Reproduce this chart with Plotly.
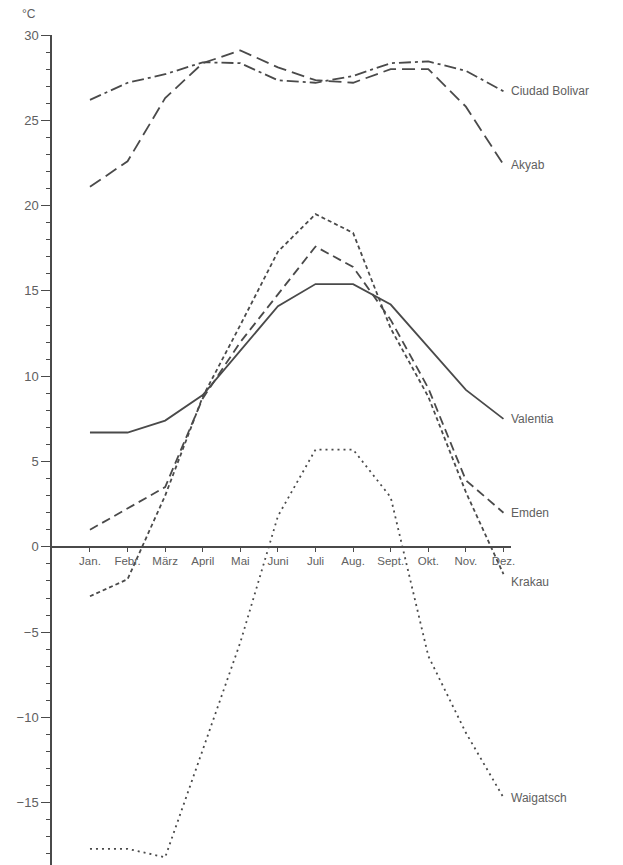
import plotly.graph_objects as go

months = ["Jan.", "Febr.", "März", "April", "Mai", "Juni", "Juli", "Aug.", "Sept.", "Okt.", "Nov.", "Dez."]

ciudad_bolivar = [26.2, 27.2, 27.7, 28.4, 28.35, 27.35, 27.2, 27.6, 28.35, 28.45, 27.9, 26.7]
akyab = [21.1, 22.6, 26.3, 28.35, 29.1, 28.1, 27.35, 27.2, 28.0, 28.0, 25.8, 22.4]
valentia = [6.7, 6.7, 7.4, 8.9, 11.5, 14.1, 15.4, 15.4, 14.2, 11.7, 9.2, 7.5]
emden = [1.0, 2.25, 3.5, 8.7, 12.0, 14.8, 17.6, 16.4, 13.3, 9.3, 3.9, 2.0]
krakau = [-2.9, -1.9, 3.0, 8.8, 13.0, 17.3, 19.5, 18.4, 12.8, 8.8, 3.2, -1.6]
waigatsch = [-17.7, -17.7, -18.2, -11.9, -5.6, 1.8, 5.7, 5.7, 2.9, -6.4, -10.9, -14.7]

series = [
    ("Ciudad Bolivar", ciudad_bolivar, "12px,4px,3px,4px", 0),
    ("Akyab", akyab, "13px,6px", 0),
    ("Valentia", valentia, "solid", 0),
    ("Emden", emden, "9px,5px", 0),
    ("Krakau", krakau, "4px,3px", -8),
    ("Waigatsch", waigatsch, "2px,4px", 0),
]

x = list(range(len(months)))
LINE = "#4a4a4a"
TXT = "#606060"
FONT = "Liberation Sans, Arial, sans-serif"

fig = go.Figure()
for name, vals, dash, yshift in series:
    fig.add_trace(go.Scatter(
        x=x, y=vals, mode="lines", name=name,
        line=dict(color=LINE, width=1.8, dash=dash),
        showlegend=False, hoverinfo="skip", cliponaxis=False,
    ))
    fig.add_annotation(
        x=x[-1], y=vals[-1], xref="x", yref="y", text=name,
        showarrow=False, xanchor="left", yanchor="middle",
        xshift=6, yshift=yshift,
        font=dict(family=FONT, size=12, color=TXT),
    )

ymin, ymax = -18.65, 30
fig.update_layout(
    width=623, height=865,
    margin=dict(l=52, r=112, t=35, b=0),
    paper_bgcolor="white", plot_bgcolor="white",
    font=dict(family=FONT, color=TXT),
    xaxis=dict(
        range=[-1.01, 11.2], tickmode="array", tickvals=x, ticktext=months,
        showgrid=False, zeroline=False, showline=True, linecolor=LINE, linewidth=1.5,
        ticks="outside", ticklen=4, tickcolor=LINE, tickwidth=1.2,
        anchor="free", position=(0 - ymin) / (ymax - ymin),
        tickfont=dict(size=11.5, color=TXT),
    ),
    yaxis=dict(
        range=[ymin, ymax], tickmode="array", tickvals=[-15, -10, -5, 0, 5, 10, 15, 20, 25, 30],
        showgrid=False, zeroline=False, showline=True, linecolor=LINE, linewidth=1.5,
        ticks="outside", ticklen=9, tickcolor=LINE, tickwidth=1.2,
        minor=dict(tickmode="linear", tick0=0, dtick=1, ticks="outside", ticklen=4,
                   tickcolor=LINE, tickwidth=1.2, showgrid=False),
        tickfont=dict(size=13, color=TXT),
    ),
)
fig.add_annotation(
    x=-0.05, y=1.025, xref="paper", yref="paper", text="°C", showarrow=False,
    font=dict(family=FONT, size=12, color=TXT), xanchor="center", yanchor="middle",
)

fig.write_html("out.html")
